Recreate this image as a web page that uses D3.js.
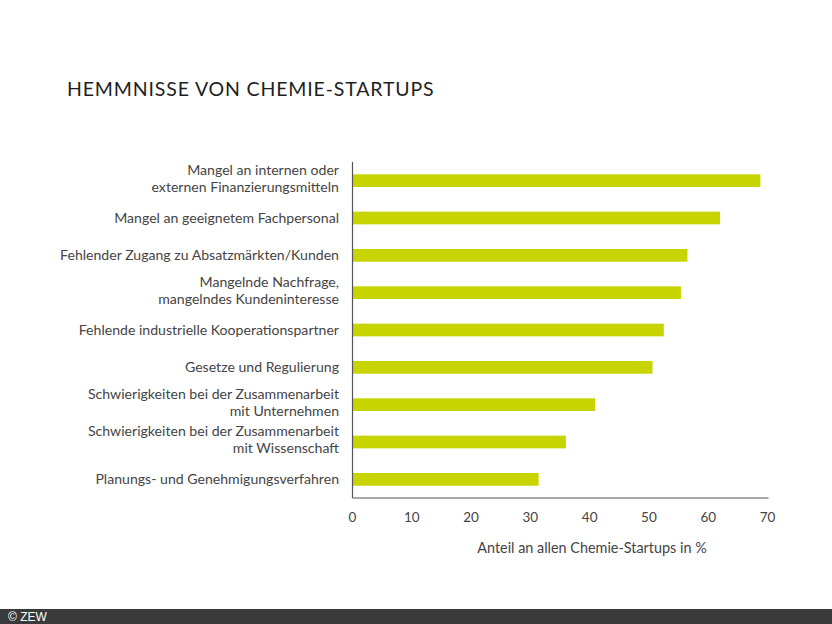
<!DOCTYPE html>
<html><head><meta charset="utf-8">
<script src="https://cdn.jsdelivr.net/npm/d3@7"></script>
<style>
html,body{margin:0;padding:0;background:#fff;}
svg text{font-family:Lato,"Open Sans",sans-serif;}
</style></head>
<body>
<svg id="chart" width="832" height="624"></svg>
<script>
const title = "HEMMNISSE VON CHEMIE-STARTUPS";
const categories = [
  ["Mangel an internen oder", "externen Finanzierungsmitteln"],
  ["Mangel an geeignetem Fachpersonal"],
  ["Fehlender Zugang zu Absatzmärkten/Kunden"],
  ["Mangelnde Nachfrage,", "mangelndes Kundeninteresse"],
  ["Fehlende industrielle Kooperationspartner"],
  ["Gesetze und Regulierung"],
  ["Schwierigkeiten bei der Zusammenarbeit", "mit Unternehmen"],
  ["Schwierigkeiten bei der Zusammenarbeit", "mit Wissenschaft"],
  ["Planungs- und Genehmigungsverfahren"]
];
const values = [68.8, 62.0, 56.5, 55.4, 52.5, 50.6, 40.9, 36.0, 31.4];
const xTicks = [0, 10, 20, 30, 40, 50, 60, 70];
const xLabel = "Anteil an allen Chemie-Startups in %";
const footer = "© ZEW";

const svg = d3.select("#chart");
const x0 = 352.5, x1 = 767.5, yTop = 162, yBot = 498;
const x = d3.scaleLinear().domain([0, 70]).range([x0, x1]);
const idx = d3.range(categories.length);
const y = d3.scaleBand().domain(idx).range([yTop, yBot]).paddingInner(0.66).paddingOuter(0.33);

svg.append("text").attr("x", 67).attr("y", 96).attr("fill", "#1e1e1e")
  .style("font-size", "19.5px").style("letter-spacing", "0.85px").text(title);

svg.selectAll("rect.bar").data(values).join("rect").attr("class", "bar")
  .attr("x", x(0)).attr("y", (d, i) => y(i)).attr("height", y.bandwidth())
  .attr("width", d => x(d) - x(0)).attr("fill", "#c8d400");

svg.append("line").attr("x1", x0).attr("x2", x0).attr("y1", yTop).attr("y2", yBot)
  .attr("stroke", "#555").attr("stroke-width", 1.2);
svg.append("line").attr("x1", x0).attr("x2", x1 + 1).attr("y1", yBot).attr("y2", yBot)
  .attr("stroke", "#555").attr("stroke-width", 1.2);

svg.selectAll("text.tick").data(xTicks).join("text").attr("class", "tick")
  .attr("x", d => x(d)).attr("y", 522).attr("text-anchor", "middle")
  .attr("fill", "#444").style("font-size", "13.5px").text(d => d);

svg.append("text").attr("x", 592).attr("y", 553).attr("text-anchor", "middle")
  .attr("fill", "#444").style("font-size", "14.4px").text(xLabel);

const lh = 17;
categories.forEach((lines, i) => {
  const cy = y(i) + y.bandwidth() / 2;
  const n = lines.length;
  const t = svg.append("text").attr("text-anchor", "end").attr("fill", "#444").style("font-size", "14.1px");
  lines.forEach((l, k) => {
    t.append("tspan").attr("x", 339).attr("y", (n === 1 ? cy + 5 : cy - 6 + k * lh)).text(l);
  });
});

svg.append("rect").attr("x", 0).attr("y", 609).attr("width", 832).attr("height", 15).attr("fill", "#3a3a3a");
svg.append("text").attr("x", 8).attr("y", 621).attr("fill", "#fff")
  .style("font-family", "Liberation Sans, Arial, sans-serif").style("font-size", "12px").text(footer);
</script>
</body></html>
